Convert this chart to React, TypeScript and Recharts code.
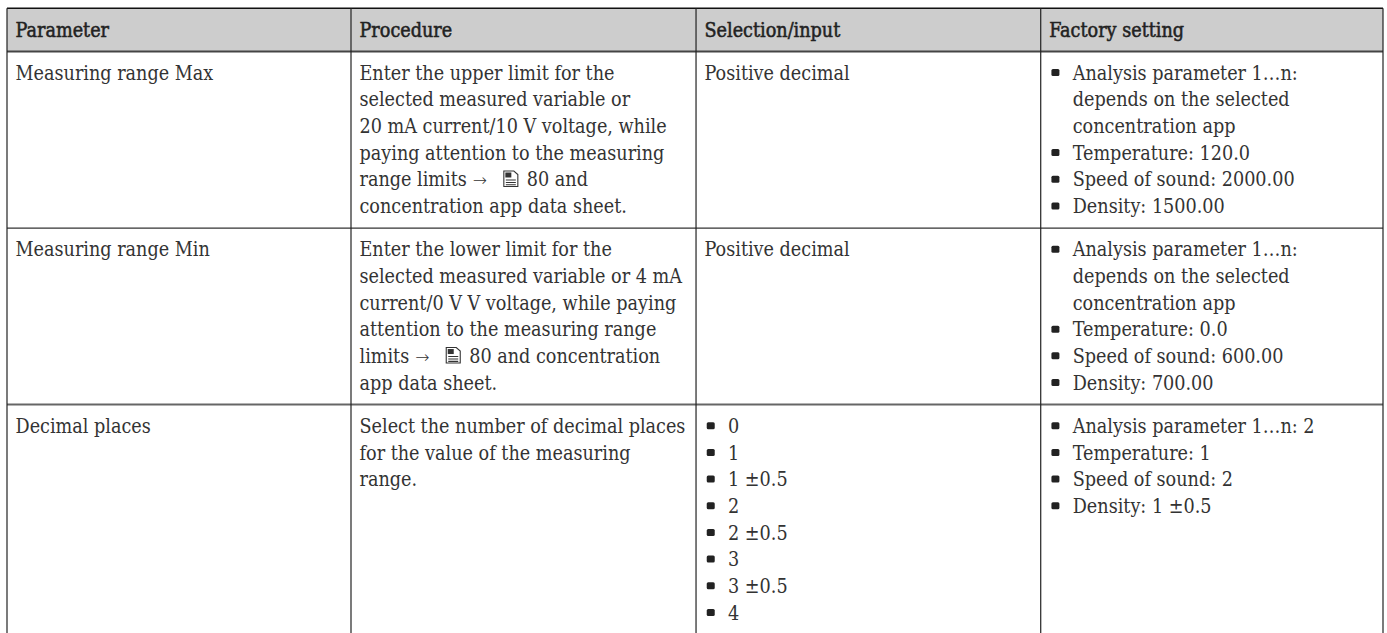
import React from 'react';
import { ScatterChart, Scatter, XAxis, YAxis, ReferenceLine, ReferenceArea } from 'recharts';

const headers = ['Parameter', 'Procedure', 'Selection/input', 'Factory setting'];

const parameters = ['Measuring range Max', 'Measuring range Min', 'Decimal places'];

const procedures = [
  [
    'Enter the upper limit for the',
    'selected measured variable or',
    '20 mA current/10 V voltage, while',
    'paying attention to the measuring',
    'range limits → {doc} 80 and',
    'concentration app data sheet.',
  ],
  [
    'Enter the lower limit for the',
    'selected measured variable or 4 mA',
    'current/0 V V voltage, while paying',
    'attention to the measuring range',
    'limits → {doc} 80 and concentration',
    'app data sheet.',
  ],
  ['Select the number of decimal places', 'for the value of the measuring', 'range.'],
];

const selections = [
  ['Positive decimal'],
  ['Positive decimal'],
  ['• 0', '• 1', '• 1 ±0.5', '• 2', '• 2 ±0.5', '• 3', '• 3 ±0.5', '• 4'],
];

const factorySettings = [
  [
    '• Analysis parameter 1…n:',
    '  depends on the selected',
    '  concentration app',
    '• Temperature: 120.0',
    '• Speed of sound: 2000.00',
    '• Density: 1500.00',
  ],
  [
    '• Analysis parameter 1…n:',
    '  depends on the selected',
    '  concentration app',
    '• Temperature: 0.0',
    '• Speed of sound: 600.00',
    '• Density: 700.00',
  ],
  ['• Analysis parameter 1…n: 2', '• Temperature: 1', '• Speed of sound: 2', '• Density: 1 ±0.5'],
];

const FONT = '"DejaVu Serif Condensed", "DejaVu Serif", serif';
const FONT_SIZE = 19.6;
const WIDTH = 1387;
const HEIGHT = 633;
const TOP = 8.3;
const LINE_H = 26.67; // px per text line, y axis runs in text lines
const COL_W = 344; // px per column, x axis runs in columns
const PAD_X = 8.5 / COL_W;
const PAD_Y = 0.31;
const BULLET_DX = 14.7 / COL_W;
const TEXT_DX = 32 / COL_W;
const BASELINE = 6.7;

const columnEdges = [0, 1, 2.003, 3.005, 4];

// table rows as line counts, the border positions follow from them
const rowCells = parameters.map((p, i) => [[p], procedures[i], selections[i], factorySettings[i]]);
const rowLineCounts = rowCells.map((cells) => Math.max(...cells.map((c) => c.length)));
const rowTops = [0, 1 + 2 * PAD_Y];
rowLineCounts.forEach((n) => rowTops.push(rowTops[rowTops.length - 1] + n + 2 * PAD_Y));

const rowBorderStyles = [
  { stroke: '#111', strokeWidth: 1.4 },
  { stroke: '#444', strokeWidth: 1.8 },
  { stroke: '#333', strokeWidth: 1.2 },
  { stroke: '#666', strokeWidth: 2 },
];

type Cell = { x: number; y: number; text: string };
const headerPoints: Cell[] = headers.map((text, c) => ({
  x: columnEdges[c] + PAD_X,
  y: PAD_Y + 0.5,
  text,
}));
const bodyPoints: Cell[] = [];
const bulletPoints: { x: number; y: number }[] = [];
rowCells.forEach((cells, r) => {
  cells.forEach((lines, c) => {
    lines.forEach((line, l) => {
      const y = rowTops[r + 1] + PAD_Y + l + 0.5;
      const bulleted = line.startsWith('• ');
      const indented = line.startsWith('  ');
      if (bulleted) bulletPoints.push({ x: columnEdges[c] + BULLET_DX, y });
      bodyPoints.push({
        x: columnEdges[c] + (bulleted || indented ? TEXT_DX : PAD_X),
        y,
        text: bulleted || indented ? line.slice(2) : line,
      });
    });
  });
});

const measure = (s: string) => {
  const ctx = document.createElement('canvas').getContext('2d')!;
  ctx.font = `${FONT_SIZE}px ${FONT}`;
  return ctx.measureText(s).width;
};

const DocIcon = ({ x, y }: { x: number; y: number }) => (
  <g transform={`translate(${x},${y})`} fill="none" stroke="#333" strokeWidth={1.1}>
    <path d="M1,-15.5 H11 L15,-12 V0 H1 Z" />
    <path d="M3,-6.5 H13 M3,-4 H13 M3,-1.7 H13" />
    <rect x={2.5} y={-14} width={6} height={5} fill="#333" stroke="none" />
  </g>
);

const TextShape = ({ cx, cy, payload, header }: any) => {
  const parts = String(payload.text).split(' → {doc} ');
  const y = cy + BASELINE;
  const common = {
    fontFamily: FONT,
    fontSize: FONT_SIZE,
    fill: header ? '#222222' : '#333333',
    stroke: header ? '#222222' : 'none',
    strokeWidth: header ? 0.5 : 0,
  };
  if (parts.length === 1) {
    return (
      <text x={cx} y={y} {...common}>
        {parts[0]}
      </text>
    );
  }
  const w = measure(parts[0]);
  return (
    <g>
      <text x={cx} y={y} {...common}>
        {parts[0]}
      </text>
      <text x={cx + w + 6} y={y} fontFamily='"DejaVu Sans Light", "DejaVu Sans"' fontSize={17} fill="#333">
        →
      </text>
      <DocIcon x={cx + w + 36} y={y} />
      <text x={cx + w + 60} y={y} {...common}>
        {parts[1]}
      </text>
    </g>
  );
};

const BulletShape = ({ cx, cy }: any) => (
  <rect x={cx - 4} y={cy - 4} width={8} height={7} rx={1.5} fill="#222" />
);

const App = () => {
  return (
    <div style={{ position: 'fixed', left: 0, top: 0, width: WIDTH, height: HEIGHT, background: '#fff' }}>
      <ScatterChart
        width={WIDTH}
        height={HEIGHT}
        margin={{ top: TOP, right: 4, bottom: 0, left: 7 }}
      >
        <XAxis type="number" dataKey="x" domain={[0, 4]} hide />
        <YAxis
          type="number"
          dataKey="y"
          domain={[0, (HEIGHT - TOP) / LINE_H]}
          reversed
          hide
          allowDataOverflow
        />
        <ReferenceArea x1={0} x2={4} y1={rowTops[0]} y2={rowTops[1]} fill="#cdcdcd" fillOpacity={1} stroke="none" />
        {rowBorderStyles.map((style, i) => (
          <ReferenceLine key={i} y={rowTops[i]} {...style} />
        ))}
        {columnEdges.map((x) => (
          <ReferenceLine key={x} x={x} stroke="#222" strokeWidth={1.2} />
        ))}
        <Scatter data={headerPoints} isAnimationActive={false} shape={(p: any) => <TextShape {...p} header />} />
        <Scatter data={bodyPoints} isAnimationActive={false} shape={(p: any) => <TextShape {...p} />} />
        <Scatter data={bulletPoints} isAnimationActive={false} shape={(p: any) => <BulletShape {...p} />} />
      </ScatterChart>
    </div>
  );
};

export default App;
